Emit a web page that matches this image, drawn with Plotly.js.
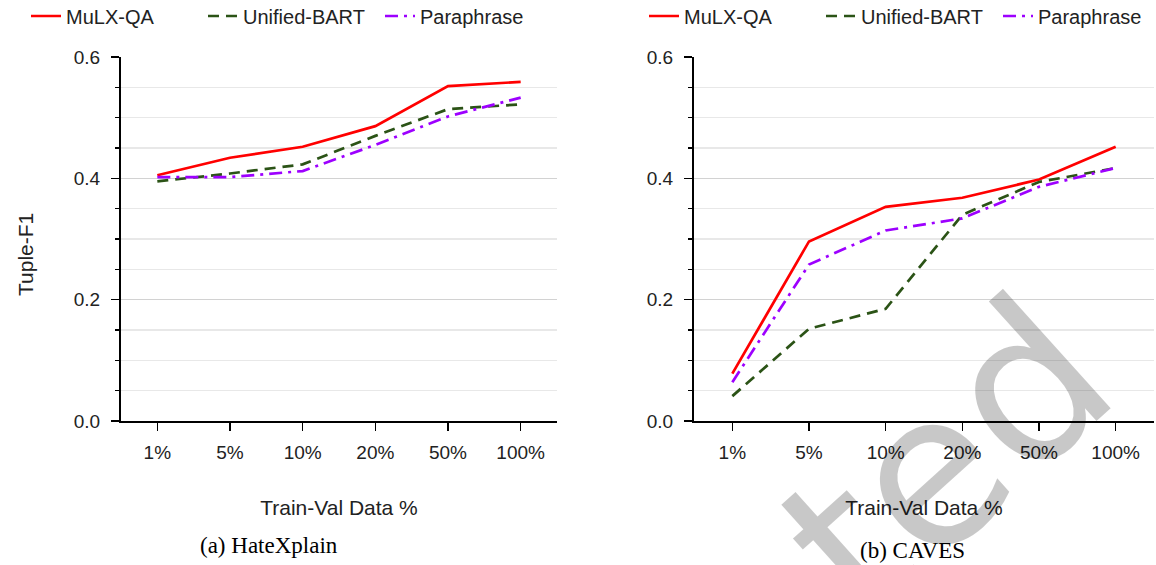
<!DOCTYPE html>
<html>
<head>
<meta charset="utf-8">
<script src="https://cdn.plot.ly/plotly-3.0.1.min.js"></script>
<style>
  html, body { margin: 0; padding: 0; background: #fff; }
  #chart { width: 1156px; height: 565px; }
</style>
</head>
<body>
<div id="chart"></div>
<script>
// ---- data ----
const categories = ['1%', '5%', '10%', '20%', '50%', '100%'];
const seriesNames = ['MuLX-QA', 'Unified-BART', 'Paraphrase'];

const hateMulx = [0.405, 0.434, 0.452, 0.486, 0.552, 0.559];
const hateUnified = [0.395, 0.408, 0.423, 0.470, 0.514, 0.522];
const hatePara = [0.402, 0.402, 0.412, 0.455, 0.502, 0.533];

const cavesMulx = [0.078, 0.296, 0.353, 0.368, 0.398, 0.452];
const cavesUnified = [0.041, 0.152, 0.185, 0.340, 0.394, 0.417];
const cavesPara = [0.064, 0.258, 0.314, 0.334, 0.386, 0.417];

const yTickVals = [0, 0.2, 0.4, 0.6];
const yTickText = ['0.0', '0.2', '0.4', '0.6'];

const xTitle = 'Train-Val Data %';
const yTitle = 'Tuple-F1';
const captions = ['(a) HateXplain', '(b) CAVES'];
const watermark = 'ted';

// ---- styles ----
const FONT = 'Liberation Sans, Arial, Helvetica, sans-serif';
const SERIF = 'Liberation Serif, Times New Roman, serif';
const styles = [
  { color: '#ff0000', width: 2.7, dash: 'solid' },
  { color: '#2b5316', width: 2.7, dash: '11px,7px' },
  { color: '#9d00ff', width: 2.7, dash: '13px,6px,3px,6px' }
];

function mk(y, i, xa, ya, leg) {
  return {
    type: 'scatter', mode: 'lines',
    x: categories, y: y,
    name: seriesNames[i],
    xaxis: xa, yaxis: ya, legend: leg,
    line: { color: styles[i].color, width: styles[i].width, dash: styles[i].dash },
    hoverinfo: 'skip'
  };
}

const data = [
  mk(hateMulx, 0, 'x', 'y', 'legend'),
  mk(hateUnified, 1, 'x', 'y', 'legend'),
  mk(hatePara, 2, 'x', 'y', 'legend'),
  mk(cavesMulx, 0, 'x2', 'y2', 'legend2'),
  mk(cavesUnified, 1, 'x2', 'y2', 'legend2'),
  mk(cavesPara, 2, 'x2', 'y2', 'legend2')
];

const W = 1156, H = 565, MT = 57, MB = 144;
const PH = H - MT - MB;
const px2x = p => p / W;
const py2y = p => (H - MB - p) / PH;

const catIdx = categories.map((_, i) => i);
const xRange = [-0.5, categories.length - 0.5];

function xMain(domain, anchor) {
  return {
    domain: domain, anchor: anchor, type: 'category',
    categoryorder: 'array', categoryarray: categories,
    range: xRange,
    showline: true, linecolor: '#000', linewidth: 2,
    ticks: 'outside', ticklen: 8, tickwidth: 1.6, tickcolor: '#000',
    showgrid: false, zeroline: false,
    tickfont: { family: FONT, size: 19, color: '#222' },
    ticklabelstandoff: 5,
    title: { text: xTitle, font: { family: FONT, size: 21, color: '#222' }, standoff: 39 }
  };
}
function xOver(over, anchor) {
  return {
    overlaying: over, anchor: anchor, type: 'linear', range: xRange,
    tickvals: catIdx, ticks: 'inside', ticklen: 8, tickwidth: 1.6, tickcolor: '#000',
    showticklabels: false, showline: false, showgrid: false, zeroline: false
  };
}
function yMain(anchor) {
  return {
    domain: [0, 1], anchor: anchor, range: [0, 0.6],
    tickvals: yTickVals, ticktext: yTickText,
    showline: true, linecolor: '#000', linewidth: 2,
    ticks: 'outside', ticklen: 8, tickwidth: 1.6, tickcolor: '#000',
    showgrid: true, gridcolor: '#d2d2d2', gridwidth: 1.5,
    zeroline: false,
    minor: { dtick: 0.05, ticks: 'outside', ticklen: 4, tickwidth: 1.4, tickcolor: '#000',
             showgrid: true, gridcolor: '#e8e8e8', gridwidth: 1.5 },
    tickfont: { family: FONT, size: 19, color: '#222' },
    ticklabelstandoff: 7
  };
}
function yOver(over, anchor) {
  return {
    overlaying: over, anchor: anchor, range: [0, 0.6], side: 'left',
    tickvals: yTickVals, ticks: 'inside', ticklen: 8, tickwidth: 1.6, tickcolor: '#000',
    minor: { dtick: 0.05, ticks: 'inside', ticklen: 4, tickwidth: 1.4, tickcolor: '#000', showgrid: false },
    showticklabels: false, showline: false, showgrid: false, zeroline: false
  };
}

function legendAt(xpx) {
  return {
    orientation: 'h', x: px2x(xpx), y: py2y(16), xanchor: 'left', yanchor: 'middle',
    font: { family: FONT, size: 20, color: '#222' },
    entrywidth: 132, entrywidthmode: 'pixels',
    bgcolor: 'rgba(0,0,0,0)', borderwidth: 0
  };
}

const layout = {
  width: W, height: H,
  margin: { l: 0, r: 0, t: MT, b: MB, pad: 0, autoexpand: false },
  paper_bgcolor: '#fff', plot_bgcolor: '#fff',
  font: { family: FONT, color: '#222' },
  showlegend: true,
  xaxis: xMain([px2x(121), px2x(557)], 'y'),
  yaxis: yMain('x'),
  xaxis2: xMain([px2x(694), px2x(1154)], 'y2'),
  yaxis2: yMain('x2'),
  xaxis3: xOver('x', 'y'),
  yaxis3: yOver('y', 'x'),
  xaxis4: xOver('x2', 'y2'),
  yaxis4: yOver('y2', 'x2'),
  legend: legendAt(26),
  legend2: legendAt(644),
  annotations: [
    { text: yTitle, xref: 'paper', yref: 'paper', x: px2x(25), y: py2y(254),
      textangle: -90, showarrow: false, xanchor: 'center', yanchor: 'middle',
      font: { family: FONT, size: 21, color: '#222' } },
    { text: captions[0], xref: 'paper', yref: 'paper', x: px2x(269), y: py2y(545),
      showarrow: false, xanchor: 'center', yanchor: 'middle',
      font: { family: SERIF, size: 23, color: '#000' } },
    { text: captions[1], xref: 'paper', yref: 'paper', x: px2x(912), y: py2y(550),
      showarrow: false, xanchor: 'center', yanchor: 'middle',
      font: { family: SERIF, size: 23, color: '#000' } },
    { text: watermark, xref: 'paper', yref: 'paper', x: px2x(946), y: py2y(457),
      textangle: -42, showarrow: false, xanchor: 'center', yanchor: 'middle',
      font: { family: 'DejaVu Sans, Liberation Sans, sans-serif', size: 212, color: 'rgba(0,0,0,0.215)' } }
  ]
};

Plotly.newPlot('chart', data, layout, { displayModeBar: false, staticPlot: true });
</script>
</body>
</html>
